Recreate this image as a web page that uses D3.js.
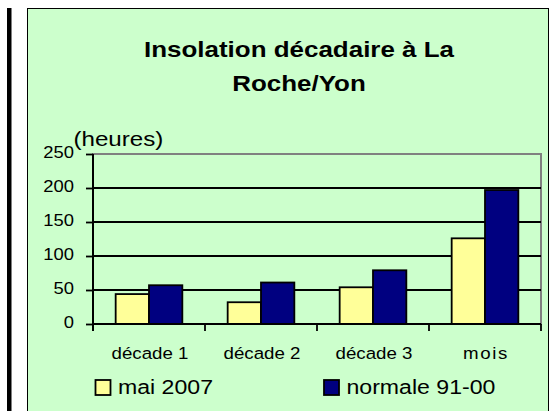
<!DOCTYPE html>
<html>
<head>
<meta charset="utf-8">
<script src="https://cdn.jsdelivr.net/npm/d3@7"></script>
<style>
  body { margin: 0; background: #fff; }
  svg { display: block; font-family: Arial, "Liberation Sans", sans-serif; }
</style>
</head>
<body>
<div id="chart"></div>
<script>
var categories = ["décade 1", "décade 2", "décade 3", "mois"]
var seriesNames = ["mai 2007", "normale 91-00"]
var mai2007 = [44, 32, 54, 126]
var normale = [57, 61, 79, 197]
var yTicks = [0, 50, 100, 150, 200, 250]
var colors = ["#FFFF99", "#000080"]

var width = 550, height = 411
// text in the original is a bit wider than Arial, stretch it a little
var sx = 1.15

var svg = d3.select("#chart").append("svg")
  .attr("width", width).attr("height", height)

// left black bar + green frame
svg.append("rect").attr("x", 7).attr("y", 8).attr("width", 4.5).attr("height", height - 8).attr("fill", "#000")
svg.append("rect").attr("x", 27.5).attr("y", 8.5).attr("width", 521).attr("height", height + 10)
  .attr("fill", "#CCFFCC").attr("stroke", "#000").attr("stroke-width", 1)

var plot = { left: 93, right: 541, top: 154, bottom: 324 }

var x = d3.scaleBand().domain(categories).range([plot.left, plot.right]).padding(0)
var xInner = d3.scaleBand().domain(seriesNames).range([0, x.bandwidth()]).paddingInner(0).paddingOuter(0.68)
var y = d3.scaleLinear().domain([0, 250]).range([plot.bottom, plot.top])

function addText(px, py, str, size, anchor, weight, scale) {
  return svg.append("text")
    .attr("transform", "translate(" + px + "," + py + ") scale(" + (scale || sx) + ",1)")
    .attr("text-anchor", anchor || "start")
    .attr("font-size", size)
    .attr("font-weight", weight || "normal")
    .attr("fill", "#000")
    .text(str)
}

// title
addText(299, 57.3, "Insolation décadaire à La", 22, "middle", "bold", 1.18)
addText(299, 91, "Roche/Yon", 22, "middle", "bold", 1.18)

// plot border (gray)
svg.append("rect").attr("x", plot.left).attr("y", plot.top)
  .attr("width", plot.right - plot.left).attr("height", plot.bottom - plot.top)
  .attr("fill", "none").attr("stroke", "#808080").attr("stroke-width", 2)

// gridlines
svg.append("g").selectAll("line")
  .data(yTicks.filter(function (d) { return d > 0 && d < 250 }))
  .enter().append("line")
    .attr("x1", plot.left).attr("x2", plot.right)
    .attr("y1", function (d) { return y(d) }).attr("y2", function (d) { return y(d) })
    .attr("stroke", "#000").attr("stroke-width", 1.8)

// bars
var groups = svg.append("g").selectAll("g")
  .data(categories)
  .enter().append("g")
    .attr("transform", function (d) { return "translate(" + x(d) + ",0)" })

groups.selectAll("rect")
  .data(function (d, i) { return [mai2007[i], normale[i]] })
  .enter().append("rect")
    .attr("x", function (d, j) { return xInner(seriesNames[j]) })
    .attr("y", function (d) { return y(d) })
    .attr("width", xInner.bandwidth())
    .attr("height", function (d) { return y(0) - y(d) })
    .attr("fill", function (d, j) { return colors[j] })
    .attr("stroke", "#000").attr("stroke-width", 1.8)

// y axis
var yAxis = d3.axisLeft(y).tickValues(yTicks).tickSize(7).tickFormat(d3.format("d"))
var gy = svg.append("g").attr("transform", "translate(" + plot.left + ",0)").call(yAxis)
gy.select(".domain").remove()
gy.selectAll(".tick line").attr("stroke", "#000").attr("stroke-width", 1.8)
gy.selectAll(".tick text").remove()
svg.append("line").attr("x1", plot.left).attr("x2", plot.left)
  .attr("y1", plot.top).attr("y2", plot.bottom + 7)
  .attr("stroke", "#000").attr("stroke-width", 2)
yTicks.forEach(function (t) {
  addText(74, y(t) + 3.8, t, 16, "end")
})
addText(73.5, 146, "(heures)", 21, "start")

// x axis with ticks at category boundaries
var xEdges = categories.map(function (c) { return x(c) }).concat([plot.right])
svg.append("line").attr("x1", plot.left).attr("x2", plot.right)
  .attr("y1", plot.bottom).attr("y2", plot.bottom)
  .attr("stroke", "#000").attr("stroke-width", 2)
svg.append("g").selectAll("line")
  .data(xEdges)
  .enter().append("line")
    .attr("x1", function (d) { return d }).attr("x2", function (d) { return d })
    .attr("y1", plot.bottom).attr("y2", plot.bottom + 7)
    .attr("stroke", "#000").attr("stroke-width", 1.8)
categories.forEach(function (c) {
  var t = addText(x(c) + x.bandwidth() / 2 + 1, 359.3, c, 17, "middle", "normal", 1.1)
  if (c === "mois") t.attr("letter-spacing", 1.5)
})

// legend
var legendX = [95.5, 324]
seriesNames.forEach(function (s, i) {
  svg.append("rect").attr("x", legendX[i]).attr("y", 380).attr("width", 15).attr("height", 15)
    .attr("fill", colors[i]).attr("stroke", "#000").attr("stroke-width", 1.8)
  addText(legendX[i] + 22.5, 393.5, s, 21, "start", "normal", 1.1)
})
</script>
</body>
</html>
